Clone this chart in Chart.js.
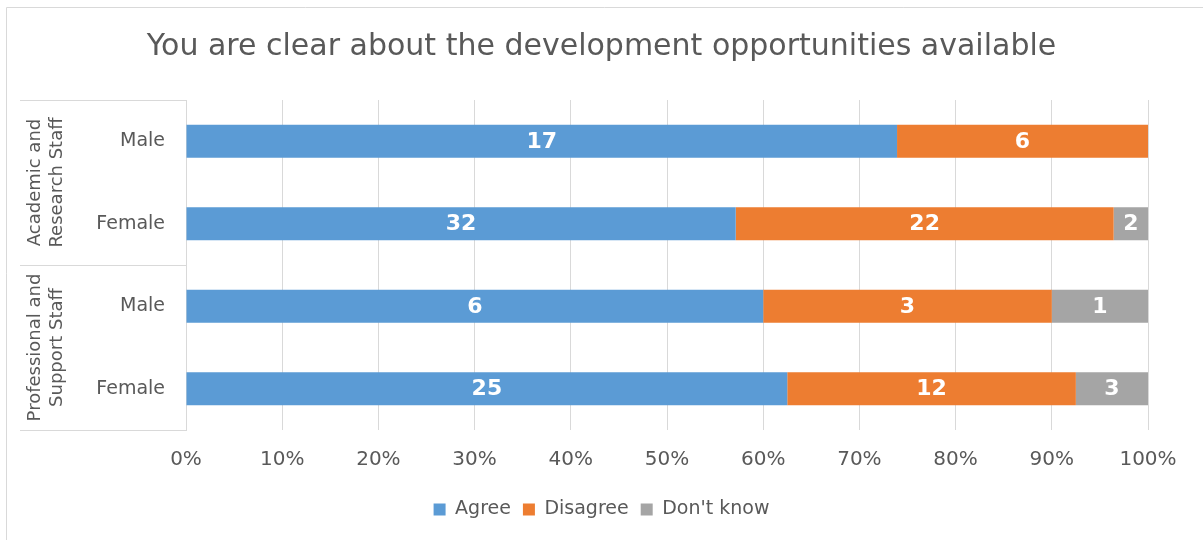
<!DOCTYPE html>
<html>
<head>
<meta charset="utf-8">
<script src="https://cdn.jsdelivr.net/npm/chart.js@4/dist/chart.umd.min.js"></script>
<style>
  html, body { margin: 0; padding: 0; background: #fff; }
  #wrap { width: 1203px; height: 540px; position: relative; }
</style>
</head>
<body>
<div id="wrap"><canvas id="chart" width="1203" height="540"></canvas></div>
<script>
// ── Datos ──
const groups     = [['Academic and', 'Research Staff'], ['Professional and', 'Support Staff']];
const categories = ['Male', 'Female', 'Male', 'Female'];
const agree      = [17, 32, 6, 25];
const disagree   = [6, 22, 3, 12];
const dontKnow   = [0, 2, 1, 3];
const seriesNames = ['Agree', 'Disagree', "Don't know"];
const COLORS = ['#5B9BD5', '#ED7D31', '#A5A5A5'];

const family    = '"DejaVu Sans", sans-serif';
const font      = { family, size: 19 };
const textColor = '#595959';
const gridColor = '#D9D9D9';

const totals = categories.map((_, i) => agree[i] + disagree[i] + dontKnow[i]);
const counts = [agree, disagree, dontKnow];
const pct = arr => arr.map((v, i) => v / totals[i] * 100);

// ── Etiquetas de datos, grupos y borde ──
const extras = {
    id: 'extras',
    afterDatasetsDraw(chart) {
        const ctx = chart.ctx;
        ctx.save();
        ctx.fillStyle = '#fff';
        ctx.font = 'bold 22px ' + family;
        ctx.textAlign = 'center';
        ctx.textBaseline = 'middle';
        chart.data.datasets.forEach((ds, di) => {
            chart.getDatasetMeta(di).data.forEach((bar, i) => {
                const n = counts[di][i];
                if (!n) return;
                const cx = (bar.x + bar.base) / 2;
                ctx.fillText(String(n), cx, bar.y + 1);
            });
        });
        ctx.restore();
    },
    afterDraw(chart) {
        const ctx = chart.ctx;
        const a = chart.chartArea;
        const y = chart.scales.y;
        ctx.save();
        // outer border
        ctx.strokeStyle = gridColor;
        ctx.lineWidth = 1;
        ctx.beginPath();
        ctx.moveTo(6.5, 540); ctx.lineTo(6.5, 7.5); ctx.lineTo(1203, 7.5);
        ctx.stroke();
        // group separators
        const mid = (y.getPixelForValue(1) + y.getPixelForValue(2)) / 2;
        [a.top, mid, a.bottom].forEach(py => {
            ctx.beginPath();
            ctx.moveTo(20, Math.round(py) + 0.5);
            ctx.lineTo(a.left, Math.round(py) + 0.5);
            ctx.stroke();
        });
        // group labels (rotated)
        ctx.fillStyle = textColor;
        ctx.font = '18px ' + family;
        ctx.textAlign = 'center';
        ctx.textBaseline = 'middle';
        const centers = [(a.top + mid) / 2, (mid + a.bottom) / 2];
        groups.forEach((lines, g) => {
            ctx.save();
            ctx.translate(46, centers[g]);
            ctx.rotate(-Math.PI / 2);
            lines.forEach((t, k) => ctx.fillText(t, 0, (k - 0.5) * 22));
            ctx.restore();
        });
        ctx.restore();
    }
};

new Chart(document.getElementById('chart'), {
    type: 'bar',
    data: {
        labels: categories,
        datasets: seriesNames.map((name, k) => ({
            label: name,
            data: pct(counts[k]),
            backgroundColor: COLORS[k],
            borderWidth: 0,
            barPercentage: 0.4,
            categoryPercentage: 1
        }))
    },
    options: {
        indexAxis: 'y',
        responsive: false,
        animation: false,
        layout: { padding: { left: 0, right: 0, top: 0, bottom: 11 } },
        plugins: {
            title: {
                display: true,
                text: 'You are clear about the development opportunities available',
                color: textColor,
                font: { family, size: 30, weight: 'normal' },
                padding: { top: 29, bottom: 35 }
            },
            legend: {
                position: 'bottom',
                labels: { font, color: textColor, boxWidth: 12, boxHeight: 12, padding: 12 }
            },
            tooltip: { enabled: false }
        },
        scales: {
            x: {
                stacked: true,
                min: 0, max: 100,
                ticks: { stepSize: 10, font: { family, size: 20 }, color: textColor, padding: 18, callback: v => v + '%' },
                grid: { color: gridColor, drawTicks: false },
                border: { display: false },
                afterFit: s => { s.height = 58; }
            },
            y: {
                stacked: true,
                ticks: { font, color: textColor, padding: 21 },
                grid: { display: false, drawTicks: false },
                border: { color: gridColor, width: 1 },
                afterFit: s => { s.width = 186; }
            },
            // espacio vacío a la derecha para que título y leyenda queden centrados
            yRight: {
                type: 'category',
                position: 'right',
                ticks: { display: false },
                grid: { display: false, drawTicks: false },
                border: { display: false },
                afterFit: s => { s.width = 55; }
            }
        }
    },
    plugins: [extras]
});
</script>
</body>
</html>
